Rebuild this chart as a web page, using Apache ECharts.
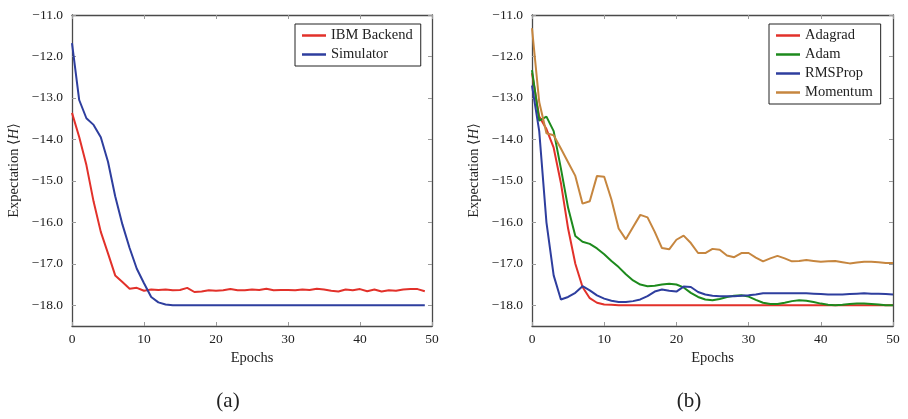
<!DOCTYPE html>
<html>
<head>
<meta charset="utf-8">
<script src="https://cdn.jsdelivr.net/npm/echarts@6/dist/echarts.min.js"></script>
<style>html,body{margin:0;padding:0;background:#fff}#c{width:908px;height:419px}</style>
</head>
<body>
<div id="c"></div>
<script>
// ---- data ----
const yTicks = [-18, -17, -16, -15, -14, -13, -12, -11];
const xTicks = [0, 10, 20, 30, 40, 50];

const ibmBackend = [-13.36, -13.94, -14.62, -15.5, -16.23, -16.75, -17.28, -17.44, -17.6, -17.58,
  -17.65, -17.62, -17.63, -17.62, -17.64, -17.63, -17.58, -17.68, -17.67, -17.64,
  -17.65, -17.64, -17.61, -17.64, -17.64, -17.62, -17.63, -17.6, -17.64, -17.63,
  -17.63, -17.64, -17.62, -17.63, -17.6, -17.62, -17.65, -17.67, -17.62, -17.64,
  -17.61, -17.66, -17.62, -17.67, -17.64, -17.65, -17.62, -17.61, -17.61, -17.66];
const simulator = [-11.68, -13.05, -13.49, -13.65, -13.95, -14.54, -15.37, -16.05, -16.62, -17.12,
  -17.47, -17.8, -17.93, -17.98, -18.0, -18.0, -18.0, -18.0, -18.0, -18.0,
  -18.0, -18.0, -18.0, -18.0, -18.0, -18.0, -18.0, -18.0, -18.0, -18.0,
  -18.0, -18.0, -18.0, -18.0, -18.0, -18.0, -18.0, -18.0, -18.0, -18.0,
  -18.0, -18.0, -18.0, -18.0, -18.0, -18.0, -18.0, -18.0, -18.0, -18.0];

const adagrad = [-12.4, -13.45, -13.75, -14.2, -15.05, -16.15, -17.0, -17.56, -17.83, -17.94,
  -17.98, -17.99, -18.0, -18.0, -18.0, -18.0, -18.0, -18.0, -18.0, -18.0,
  -18.0, -18.0, -18.0, -18.0, -18.0, -18.0, -18.0, -18.0, -18.0, -18.0,
  -18.0, -18.0, -18.0, -18.0, -18.0, -18.0, -18.0, -18.0, -18.0, -18.0,
  -18.0, -18.0, -18.0, -18.0, -18.0, -18.0, -18.0, -18.0, -18.0, -18.0, -18.0];
const adam = [-12.33, -13.55, -13.45, -13.8, -14.7, -15.65, -16.33, -16.47, -16.52, -16.63,
  -16.77, -16.93, -17.08, -17.25, -17.4, -17.5, -17.54, -17.53, -17.5, -17.48,
  -17.5, -17.57, -17.7, -17.8, -17.86, -17.88, -17.85, -17.8, -17.77, -17.76,
  -17.79, -17.87, -17.94, -17.97, -17.97, -17.94, -17.9, -17.88, -17.89, -17.92,
  -17.96, -17.99, -18.0, -17.99, -17.97, -17.96, -17.96, -17.97, -17.98, -18.0, -18.0];
const rmsprop = [-12.7, -13.8, -16.0, -17.28, -17.86, -17.8, -17.7, -17.54, -17.64, -17.76,
  -17.84, -17.89, -17.92, -17.92, -17.9, -17.86, -17.78, -17.67, -17.62, -17.65,
  -17.67, -17.55, -17.56, -17.68, -17.74, -17.77, -17.78, -17.78, -17.78, -17.77,
  -17.76, -17.74, -17.71, -17.71, -17.71, -17.71, -17.71, -17.71, -17.71, -17.72,
  -17.73, -17.74, -17.74, -17.74, -17.73, -17.72, -17.71, -17.72, -17.72, -17.73, -17.74];
const momentum = [-11.32, -13.1, -13.85, -13.9, -14.22, -14.55, -14.88, -15.55, -15.49, -14.88,
  -14.9, -15.45, -16.15, -16.41, -16.11, -15.82, -15.88, -16.23, -16.62, -16.65,
  -16.42, -16.32, -16.5, -16.74, -16.74, -16.64, -16.66, -16.8, -16.84, -16.74,
  -16.74, -16.85, -16.94, -16.87, -16.81, -16.87, -16.94, -16.93, -16.91, -16.93,
  -16.95, -16.94, -16.93, -16.96, -16.99, -16.97, -16.95, -16.95, -16.96, -16.98, -16.98];

// ---- styling ----
const FONT = '"Liberation Serif", "DejaVu Serif", serif';
const AXIS_COLOR = '#4a4a4a';
const TICK_COLOR = '#9a9a9a';
const TEXT = '#222';
const C_RED = '#e2312a', C_BLUE = '#2e3e9e', C_GREEN = '#1d8a1d', C_BROWN = '#c6863f';

const pairs = arr => arr.map((v, i) => [i, v]);
const fmt = v => (v < 0 ? '\u2212' : '') + Math.abs(v).toFixed(1);

function xAxes(gi) {
  const base = {
    type: 'value', gridIndex: gi, min: 0, max: 50,
    splitLine: {show: false},
    axisLine: {show: true, onZero: false, lineStyle: {color: AXIS_COLOR, width: 1.3}},
    axisTick: {show: true, inside: true, length: 4, customValues: xTicks, lineStyle: {color: TICK_COLOR}},
  };
  return [
    Object.assign({}, base, {
      position: 'bottom',
      axisLabel: {customValues: xTicks, margin: 6, color: TEXT, fontFamily: FONT, fontSize: 13.5},
      name: 'Epochs', nameLocation: 'middle', nameGap: 23,
      nameTextStyle: {color: TEXT, fontFamily: FONT, fontSize: 14.5}
    }),
    Object.assign({}, base, {position: 'top', axisLabel: {show: false}})
  ];
}
function yAxes(gi) {
  const base = {
    type: 'value', gridIndex: gi, min: -18.5, max: -11,
    splitLine: {show: false},
    axisLine: {show: true, onZero: false, lineStyle: {color: AXIS_COLOR, width: 1.3}},
    axisTick: {show: true, inside: true, length: 4, customValues: yTicks, lineStyle: {color: TICK_COLOR}},
  };
  return [
    Object.assign({}, base, {
      position: 'left',
      axisLabel: {customValues: yTicks, formatter: fmt, margin: 9, color: TEXT, fontFamily: FONT, fontSize: 13.5},
      name: 'Expectation \u27e8{i|H}\u27e9', nameLocation: 'middle', nameGap: 50, nameRotate: 90,
      nameTextStyle: {color: TEXT, fontFamily: FONT, fontSize: 14.5,
        rich: {i: {fontStyle: 'italic', fontFamily: FONT, fontSize: 14.5, color: TEXT}}}
    }),
    Object.assign({}, base, {position: 'right', axisLabel: {show: false}})
  ];
}
function line(name, data, color, xi, yi) {
  return {name, type: 'line', xAxisIndex: xi, yAxisIndex: yi, data: pairs(data),
    showSymbol: false, symbol: 'none', lineStyle: {color, width: 2}, itemStyle: {color}, animation: false};
}
function legend(names, left, top) {
  return {
    data: names, left, top, orient: 'vertical',
    borderColor: '#222', borderWidth: 1, padding: [4, 8, 4, 7], itemGap: 4,
    itemWidth: 24, itemHeight: 14, icon: 'path://M0,6 L24,6 L24,8.5 L0,8.5 Z',
    textStyle: {fontFamily: FONT, fontSize: 14.5, color: TEXT}
  };
}

const chart = echarts.init(document.getElementById('c'), null, {renderer: 'canvas'});
chart.setOption({
  animation: false,
  backgroundColor: '#fff',
  title: [
    {text: '(a)', left: 223, top: 386, textAlign: 'center', textStyle: {fontFamily: FONT, fontSize: 21, fontWeight: 'normal', color: TEXT}},
    {text: '(b)', left: 684, top: 386, textAlign: 'center', textStyle: {fontFamily: FONT, fontSize: 21, fontWeight: 'normal', color: TEXT}}
  ],
  grid: [
    {left: 72, top: 15, width: 360, height: 311},
    {left: 532, top: 15, width: 361, height: 311}
  ],
  xAxis: [...xAxes(0), ...xAxes(1)],
  yAxis: [...yAxes(0), ...yAxes(1)],
  legend: [
    legend(['IBM Backend', 'Simulator'], 295, 24),
    legend(['Adagrad', 'Adam', 'RMSProp', 'Momentum'], 769, 24)
  ],
  series: [
    line('IBM Backend', ibmBackend, C_RED, 0, 0),
    line('Simulator', simulator, C_BLUE, 0, 0),
    line('Adagrad', adagrad, C_RED, 2, 2),
    line('Adam', adam, C_GREEN, 2, 2),
    line('RMSProp', rmsprop, C_BLUE, 2, 2),
    line('Momentum', momentum, C_BROWN, 2, 2)
  ]
});
</script>
</body>
</html>
